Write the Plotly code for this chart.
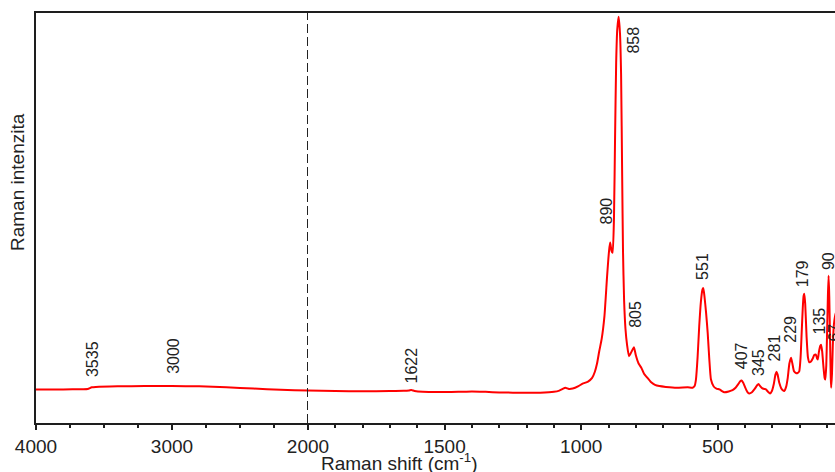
import plotly.graph_objects as go

# ---- data ----
wn_left = [4000, 3800, 3660, 3620, 3590, 3560, 3400, 3200, 3000, 2800, 2600, 2400, 2200, 2100, 2000]
int_left = [8.2, 8.2, 8.25, 8.3, 8.7, 8.8, 8.95, 9.0, 9.0, 8.95, 8.7, 8.4, 8.1, 8.0, 7.9]

wn_right = [2000, 1900, 1800, 1700, 1650, 1630, 1622, 1610, 1580, 1500, 1450, 1400, 1350, 1300,
            1250, 1200, 1150, 1100, 1080, 1068, 1058, 1045, 1031, 1010, 995, 975, 960, 950, 942,
            934, 925, 915, 905, 898, 894, 889, 885, 880, 876, 872, 868, 863, 858, 854, 850, 847,
            843, 838, 832, 825, 815, 807, 800, 790, 780, 770, 760, 745, 730, 714, 690, 650, 610,
            592, 585, 580, 574, 568, 562, 556, 553, 549, 543, 537, 531, 525, 515, 505, 494, 485,
            476, 460, 446, 435, 425, 418, 413, 407, 400, 392, 385, 375, 365, 356, 351, 345, 338,
            330, 324, 316, 309, 302, 295, 289, 285, 281, 275, 268, 262, 257, 250, 244, 238, 232,
            227, 221, 214, 208, 202, 197, 193, 189, 186, 183.5, 180, 175, 170, 165, 159, 152, 147,
            141, 137, 134, 130, 125, 122, 118, 113, 109, 106.5, 103, 100, 97, 94.5, 92, 89, 86.5,
            85, 82, 79, 75, 71, 67, 63, 58]
int_right = [7.9, 7.8, 7.75, 7.8, 7.85, 7.95, 8.05, 7.8, 7.6, 7.55, 7.6, 7.7, 7.6, 7.45,
             7.4, 7.35, 7.4, 7.6, 7.9, 8.3, 8.6, 8.3, 8.4, 9.0, 9.6, 10.1, 11.0, 12.5, 14.5,
             17.5, 20.5, 26, 36, 42, 44, 42, 41.5, 50, 70, 88, 96, 99.1, 95, 85, 60, 42,
             30, 23, 19, 16.3, 17.5, 18.5, 16.5, 14.5, 13.5, 12, 11.2, 10, 9.3, 9.0, 8.8, 8.6, 8.7,
             8.6, 9.0, 10.6, 16, 23.6, 29.5, 32.6, 32.9, 31, 27, 22, 15.5, 10.6, 8.9, 8.4, 8.2, 7.8,
             7.5, 7.7, 8.0, 8.6, 9.5, 10.2, 10.35, 9.8, 8.7, 7.6, 7.2, 7.5, 8.3, 9.2, 9.5, 9.0, 8.5,
             8.3, 8.2, 7.6, 7.2, 7.8, 9.5, 11.8, 12.5, 11.8, 9.8, 8.5, 8.0, 7.8, 8.8, 11, 14.5, 15.9,
             14.5, 12.6, 12.2, 12.2, 12.6, 16, 22, 28, 31, 31.5, 29, 21, 16, 14.8, 15.0, 15.8, 16.6,
             16.7, 15.8, 15.5, 17.3, 18.8, 19.1, 17.5, 13.5, 11, 10.6, 14, 22, 31, 35.9, 31, 20, 11,
             8.6, 12, 19, 24, 26, 27, 22, 15]

# peak labels: text, axis, label centre (wavenumber), label centre (intensity)
label_text = ["3535", "3000", "1622", "890", "858", "805", "551", "407", "345", "281", "229", "179", "135", "90", "67"]
label_axis = ["x", "x", "x2", "x2", "x2", "x2", "x2", "x2", "x2", "x2", "x2", "x2", "x2", "x2", "x2"]
label_x = [3584, 2995, 1622, 909, 812, 799, 556, 415, 352, 289, 237, 190, 129, 94.5, 72]
label_y = [15.5, 16.3, 14.1, 51.6, 93.4, 26.4, 38.2, 16.3, 14.7, 18.3, 22.9, 36.4, 24.8, 39.4, 22]

left_ticks = [4000, 3000, 2000]
right_ticks = [1500, 1000, 500]
left_minor = [3750, 3500, 3250, 2750, 2500, 2250]
right_minor = [1900, 1800, 1700, 1600, 1400, 1300, 1200, 1100, 900, 800, 700, 600, 400, 300, 200, 100]

FONT = "Liberation Sans, Arial, sans-serif"
AX = "#1e1e1e"
W, H = 835, 472
ML, MR, MT, MB = 36, 0, 13, 49
pw = W - ML - MR
split = 272 / pw

fig = go.Figure()
fig.add_trace(go.Scatter(x=wn_left, y=int_left, mode="lines", xaxis="x", yaxis="y",
                         line=dict(color="#ff0000", width=2, shape="spline", smoothing=0.5),
                         showlegend=False, hoverinfo="skip"))
fig.add_trace(go.Scatter(x=wn_right, y=int_right, mode="lines", xaxis="x2", yaxis="y",
                         line=dict(color="#ff0000", width=2, shape="spline", smoothing=0.5),
                         showlegend=False, hoverinfo="skip"))

common = dict(showgrid=False, zeroline=False, showline=True, linecolor=AX, linewidth=2,
              mirror=True, ticks="outside", ticklen=5, tickwidth=1.5, tickcolor=AX,
              automargin=False,
              tickfont=dict(family=FONT, size=19, color="#222222"), anchor="y")

fig.update_layout(
    template="none",
    width=W, height=H, autosize=False,
    margin=dict(l=ML, r=MR, t=MT, b=MB, pad=0),
    paper_bgcolor="white", plot_bgcolor="white",
    xaxis=dict(domain=[0, split], range=[4000, 2000], tickmode="array", tickvals=left_ticks,
               minor=dict(tickmode="array", tickvals=left_minor, ticks="outside", ticklen=3,
                          tickwidth=1.5, tickcolor=AX), **common),
    xaxis2=dict(domain=[split, 1], range=[2000, 71], tickmode="array", tickvals=right_ticks,
                minor=dict(tickmode="array", tickvals=right_minor, ticks="outside", ticklen=3,
                           tickwidth=1.5, tickcolor=AX), **common),
    yaxis=dict(range=[0, 100], showgrid=False, zeroline=False, showline=True, linecolor=AX,
               linewidth=2, ticks="", showticklabels=False, automargin=False),
)

# dashed break line at 2000
fig.add_shape(type="line", xref="x", yref="paper", x0=2000, x1=2000, y0=0, y1=1,
              line=dict(color="#222222", width=2, dash="9px,4px"))

for t, ax, lx, ly in zip(label_text, label_axis, label_x, label_y):
    fig.add_annotation(text=t, xref=ax, yref="y", x=lx, y=ly, textangle=-90,
                       showarrow=False, xanchor="center", yanchor="middle",
                       font=dict(family=FONT, size=16, color="#222222"))

# axis titles
fig.add_annotation(text="Raman shift (cm<sup>-1</sup>)", xref="paper", yref="paper",
                   x=(399 - ML) / pw, y=(H - MB - 462) / (H - MT - MB), showarrow=False,
                   xanchor="center", yanchor="middle",
                   font=dict(family=FONT, size=19, color="#222222"))
fig.add_annotation(text="Raman intenzita", xref="paper", yref="paper",
                   x=(17 - ML) / pw, y=(H - MB - 182) / (H - MT - MB), showarrow=False,
                   textangle=-90, xanchor="center", yanchor="middle",
                   font=dict(family=FONT, size=19, color="#222222"))

fig.write_html("out.html",
               config={"responsive": False, "displayModeBar": False},
               post_script="document.body.style.margin='0';document.body.style.overflow='hidden';")
